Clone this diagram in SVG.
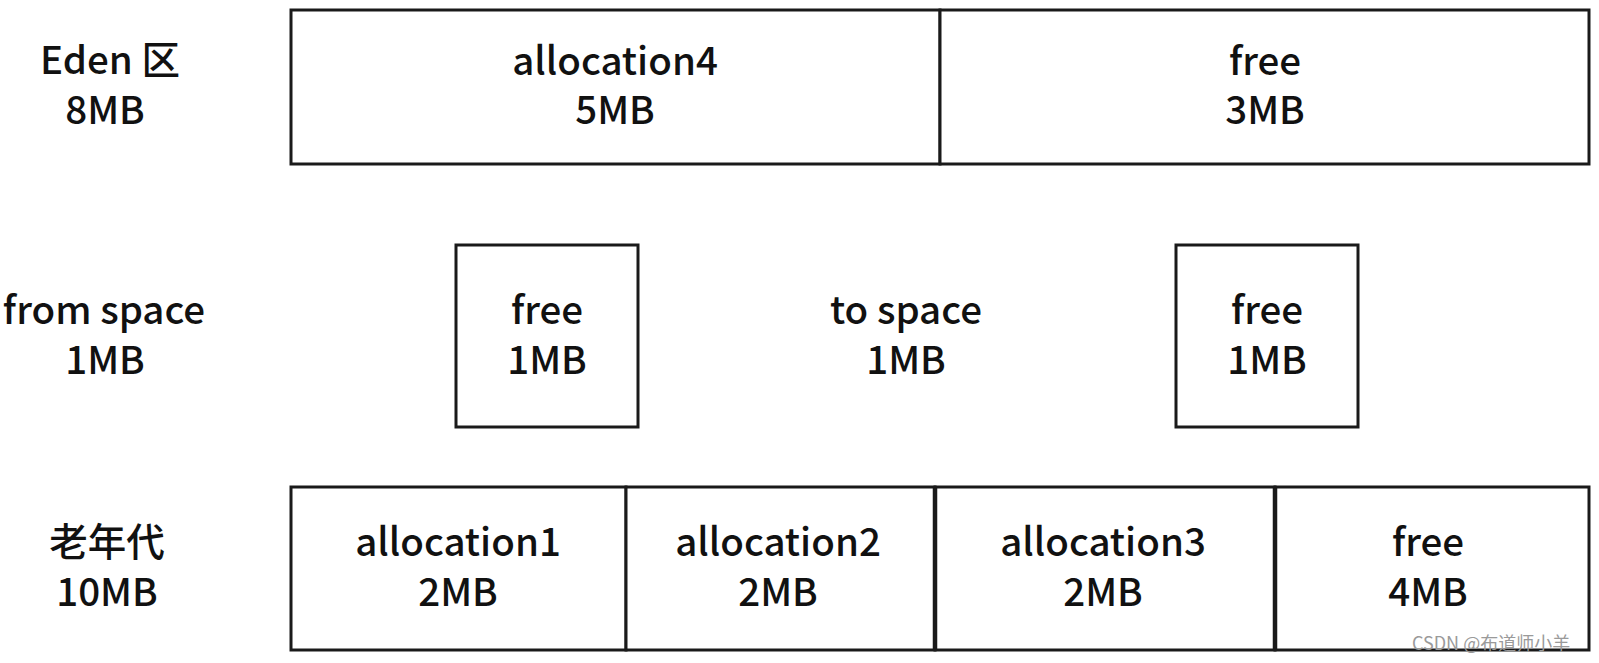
<svg xmlns="http://www.w3.org/2000/svg" width="1599" height="663" viewBox="0 0 1599 663">
<style>
  .box { fill: #ffffff; stroke: #1a1a1a; stroke-width: 3; }
  .divb { stroke: #1a1a1a; stroke-width: 4.5; }
  .t { font-family: "Noto Sans CJK SC", "Noto Sans", sans-serif; font-size: 38.5px; font-weight: 500; fill: #111; text-anchor: middle; }
  .wm { font-family: "Noto Sans CJK SC", "Liberation Sans", sans-serif; font-size: 18px; fill: #9a9a9a; }
</style>
<rect width="1599" height="663" fill="#ffffff"/>

<g id="label-eden">
  <text class="t" x="110" y="74">Eden 区</text>
  <text class="t" x="105" y="124">8MB</text>
</g>
<g id="label-from">
  <text class="t" x="104" y="324">from space</text>
  <text class="t" x="105" y="374">1MB</text>
</g>
<g id="label-to">
  <text class="t" x="906" y="324">to space</text>
  <text class="t" x="906" y="374">1MB</text>
</g>
<g id="label-old">
  <text class="t" x="107" y="556">老年代</text>
  <text class="t" x="107" y="606">10MB</text>
</g>

<g id="eden-alloc4">
  <rect class="box" x="291" y="10" width="649" height="154"/>
  <text class="t" x="615" y="75">allocation4</text>
  <text class="t" x="615" y="124">5MB</text>
</g>
<g id="eden-free">
  <rect class="box" x="940" y="10" width="649" height="154"/>
  <text class="t" x="1265" y="75">free</text>
  <text class="t" x="1265" y="124">3MB</text>
</g>

<g id="from-free">
  <rect class="box" x="456" y="245" width="182" height="182"/>
  <text class="t" x="547" y="324">free</text>
  <text class="t" x="547" y="374">1MB</text>
</g>
<g id="to-free">
  <rect class="box" x="1176" y="245" width="182" height="182"/>
  <text class="t" x="1267" y="324">free</text>
  <text class="t" x="1267" y="374">1MB</text>
</g>

<g id="old-alloc1">
  <rect class="box" x="291" y="487" width="335" height="163"/>
  <text class="t" x="458" y="556">allocation1</text>
  <text class="t" x="458" y="606">2MB</text>
</g>
<g id="old-alloc2">
  <rect class="box" x="626" y="487" width="309" height="163"/>
  <text class="t" x="778" y="556">allocation2</text>
  <text class="t" x="778" y="606">2MB</text>
</g>
<g id="old-alloc3">
  <rect class="box" x="935" y="487" width="340" height="163"/>
  <text class="t" x="1103" y="556">allocation3</text>
  <text class="t" x="1103" y="606">2MB</text>
</g>
<g id="old-free">
  <rect class="box" x="1275" y="487" width="314" height="163"/>
  <text class="t" x="1428" y="556">free</text>
  <text class="t" x="1428" y="606">4MB</text>
</g>
<g id="dividers">
  <line class="divb" x1="935" y1="487" x2="935" y2="650"/>
  <line class="divb" x1="1275" y1="487" x2="1275" y2="650"/>
</g>

<g id="connectors"></g>

<text class="wm" x="1412" y="650">CSDN @布道师小羊</text>
</svg>
